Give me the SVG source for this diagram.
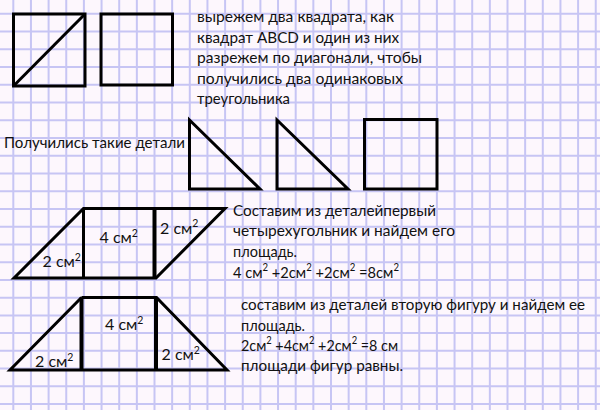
<svg xmlns="http://www.w3.org/2000/svg" width="600" height="410" viewBox="0 0 600 410">
<defs>
<style>
.grid{stroke:#c7c5f4;stroke-width:2;fill:none}
.sh{stroke:#000;stroke-width:3;fill:none;stroke-linejoin:miter}
.thick{stroke:#000;stroke-width:4;fill:none}
text{font-family:Lato,"Open Sans","Liberation Sans",sans-serif;font-size:16px;fill:#111}
.sup{font-size:10.5px}
</style>
</defs>
<rect width="600" height="410" fill="#fdf7fd"/>
<g id="grid">
<path class="grid" d="M13.3 0V410M30.95 0V410M48.6 0V410M66.25 0V410M83.9 0V410M101.55 0V410M119.2 0V410M136.85 0V410M154.5 0V410M172.15 0V410M189.8 0V410M207.45 0V410M225.1 0V410M242.75 0V410M260.4 0V410M278.05 0V410M295.7 0V410M313.35 0V410M331 0V410M348.65 0V410M366.3 0V410M383.95 0V410M401.6 0V410M419.25 0V410M436.9 0V410M454.55 0V410M472.2 0V410M489.85 0V410M507.5 0V410M525.15 0V410M542.8 0V410M560.45 0V410M578.1 0V410M595.75 0V410"/>
<path class="grid" d="M0 13.8H600M0 31.54H600M0 49.28H600M0 67.02H600M0 84.76H600M0 102.5H600M0 120.24H600M0 137.98H600M0 155.72H600M0 173.46H600M0 191.2H600M0 208.94H600M0 226.68H600M0 244.42H600M0 262.16H600M0 279.9H600M0 297.64H600M0 315.38H600M0 333.12H600M0 350.86H600M0 368.6H600M0 386.34H600M0 404.08H600"/>
</g>
<g id="square-cut">
<rect class="sh" x="13.5" y="14" width="71.5" height="72"/>
<line class="sh" x1="13.5" y1="86" x2="85" y2="14"/>
</g>
<g id="square-whole">
<rect class="sh" x="101" y="14" width="71.5" height="71"/>
</g>
<g id="text-1">
<text x="197" y="22" textLength="197" lengthAdjust="spacingAndGlyphs">вырежем два квадрата, как</text>
<text x="197" y="42.5" textLength="202" lengthAdjust="spacingAndGlyphs">квадрат ABCD и один из них</text>
<text x="197" y="63" textLength="225" lengthAdjust="spacingAndGlyphs">разрежем по диагонали, чтобы</text>
<text x="197" y="83.5" textLength="206" lengthAdjust="spacingAndGlyphs">получились два одинаковых</text>
<text x="197" y="103.5" textLength="93" lengthAdjust="spacingAndGlyphs">треугольника</text>
</g>
<g id="label-parts">
<text x="4" y="147.5" textLength="181" lengthAdjust="spacingAndGlyphs">Получились такие детали</text>
</g>
<g id="triangle-1">
<polygon class="sh" points="189.5,120 189.5,189 260,189"/>
</g>
<g id="triangle-2">
<polygon class="sh" points="277,120 277,189 348,189"/>
</g>
<g id="square-3">
<rect class="sh" x="364.5" y="119.5" width="72.5" height="69.5"/>
</g>
<g id="parallelogram">
<polygon class="sh" points="14,278 83.5,208.5 225,208.5 156,278"/>
<line class="sh" x1="83.5" y1="208.5" x2="83.5" y2="278"/>
<line class="thick" x1="154.5" y1="208.5" x2="154.5" y2="278"/>
<text x="42.5" y="267">2 см<tspan class="sup" dy="-6.5">2</tspan></text>
<text x="99.5" y="243">4 см<tspan class="sup" dy="-6.5">2</tspan></text>
<text x="160" y="233.5">2 см<tspan class="sup" dy="-6.5">2</tspan></text>
</g>
<g id="text-2">
<text x="233" y="215.5" textLength="203" lengthAdjust="spacingAndGlyphs">Составим из деталейпервый</text>
<text x="233" y="236" textLength="222" lengthAdjust="spacingAndGlyphs">четырехугольник и найдем его</text>
<text x="233" y="257" textLength="64" lengthAdjust="spacingAndGlyphs">площадь.</text>
<text x="233" y="277.5" textLength="166" lengthAdjust="spacingAndGlyphs">4 см<tspan class="sup" dy="-6.5">2</tspan><tspan dy="6.5"> +2см</tspan><tspan class="sup" dy="-6.5">2</tspan><tspan dy="6.5"> +2см</tspan><tspan class="sup" dy="-6.5">2</tspan><tspan dy="6.5"> =8см</tspan><tspan class="sup" dy="-6.5">2</tspan></text>
</g>
<g id="trapezoid">
<polyline class="sh" points="81.5,297.5 10,370 227,370 156.5,297.5 81.5,297.5"/>
<line class="thick" x1="81.5" y1="297.5" x2="81.5" y2="370"/>
<line class="thick" x1="156" y1="297.5" x2="156" y2="370"/>
<text x="35" y="367">2 см<tspan class="sup" dy="-6.5">2</tspan></text>
<text x="105" y="330">4 см<tspan class="sup" dy="-6.5">2</tspan></text>
<text x="161.5" y="360">2 см<tspan class="sup" dy="-6.5">2</tspan></text>
</g>
<g id="text-3">
<text x="241" y="310" textLength="344" lengthAdjust="spacingAndGlyphs">составим из деталей вторую фигуру и найдем ее</text>
<text x="241" y="330.5" textLength="64" lengthAdjust="spacingAndGlyphs">площадь.</text>
<text x="241" y="350.5" textLength="157" lengthAdjust="spacingAndGlyphs">2см<tspan class="sup" dy="-6.5">2</tspan><tspan dy="6.5"> +4см</tspan><tspan class="sup" dy="-6.5">2</tspan><tspan dy="6.5"> +2см</tspan><tspan class="sup" dy="-6.5">2</tspan><tspan dy="6.5"> =8 см</tspan></text>
<text x="241" y="371" textLength="162" lengthAdjust="spacingAndGlyphs">площади фигур равны.</text>
</g>
</svg>
